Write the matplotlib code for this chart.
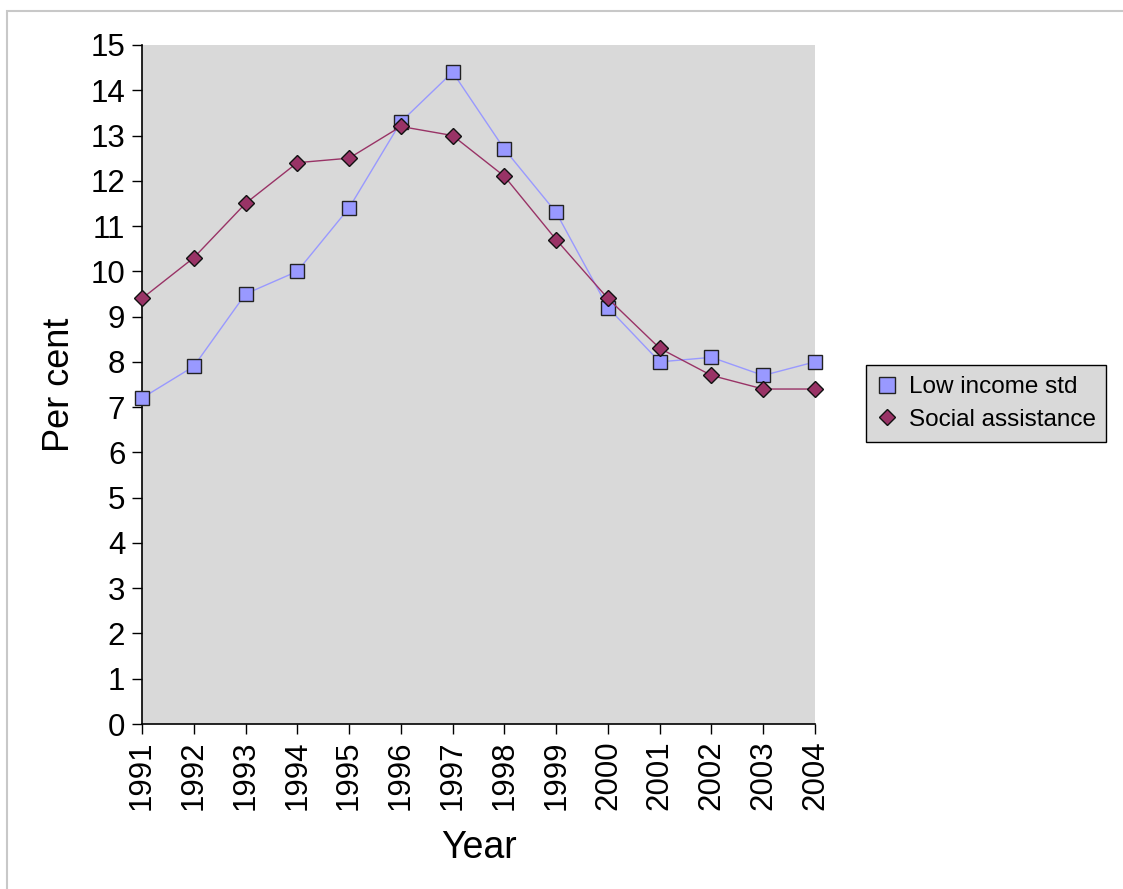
import matplotlib.pyplot as plt
from matplotlib.lines import Line2D
from matplotlib.patches import Rectangle

years = [1991, 1992, 1993, 1994, 1995, 1996, 1997,
         1998, 1999, 2000, 2001, 2002, 2003, 2004]
low_income = [7.2, 7.9, 9.5, 10.0, 11.4, 13.3, 14.4,
              12.7, 11.3, 9.2, 8.0, 8.1, 7.7, 8.0]
social_assist = [9.4, 10.3, 11.5, 12.4, 12.5, 13.2, 13.0,
                 12.1, 10.7, 9.4, 8.3, 7.7, 7.4, 7.4]

plt.rcParams['font.family'] = ['Liberation Sans', 'DejaVu Sans']

fig = plt.figure(figsize=(11.23, 8.89), dpi=100)
fig.patch.set_facecolor('white')

# thin grey frame around the whole chart
fig.patches.append(Rectangle((7 / 1123, -0.05), 1.2, 1 - 11 / 889 + 0.05,
                             transform=fig.transFigure, fill=False,
                             edgecolor='#c8c8c8', linewidth=1.5))

ax = fig.add_axes([142 / 1123, 1 - 724 / 889, 673 / 1123, 679 / 889])
ax.set_facecolor('#d9d9d9')

ax.plot(years, low_income, color='#9999ff', linewidth=1.0,
        marker='s', markersize=9.5, markerfacecolor='#9999ff',
        markeredgecolor='#222222', markeredgewidth=1.0, clip_on=False, zorder=3)
ax.plot(years, social_assist, color='#993366', linewidth=1.0,
        marker='D', markersize=8.3, markerfacecolor='#993366',
        markeredgecolor='#111111', markeredgewidth=1.0, clip_on=False, zorder=4)

ax.set_xlim(1991, 2004)
ax.set_ylim(0, 15)
ax.set_xticks(years)
ax.set_xticklabels([str(y) for y in years], rotation=90)
ax.set_yticks(range(0, 16))

for side in ['top', 'right']:
    ax.spines[side].set_visible(False)
for side in ['left', 'bottom']:
    ax.spines[side].set_color('black')
    ax.spines[side].set_linewidth(1.2)

ax.tick_params(axis='both', direction='out', length=7, width=1.0,
               color='black', labelsize=22.5, pad=5)

ax.set_xlabel('Year', fontsize=27, labelpad=14)
ax.set_ylabel('Per cent', fontsize=26, labelpad=10)

handles = [
    Line2D([], [], linestyle='none', marker='s', markersize=11,
           markerfacecolor='#9999ff', markeredgecolor='#222222'),
    Line2D([], [], linestyle='none', marker='D', markersize=8,
           markerfacecolor='#993366', markeredgecolor='#111111'),
]
leg = fig.legend(handles, ['Low income std', 'Social assistance'],
                 loc='center left', bbox_to_anchor=(866 / 1123, 1 - 403.5 / 889),
                 fontsize=17.5, frameon=True, fancybox=False, shadow=False,
                 handlelength=0.8, handletextpad=0.5, borderpad=0.45,
                 labelspacing=0.45, borderaxespad=0)
leg.get_frame().set_facecolor('#d9d9d9')
leg.get_frame().set_edgecolor('black')
leg.get_frame().set_linewidth(1.0)
leg.get_frame().set_alpha(1)

fig.savefig('out.png', dpi=100)
